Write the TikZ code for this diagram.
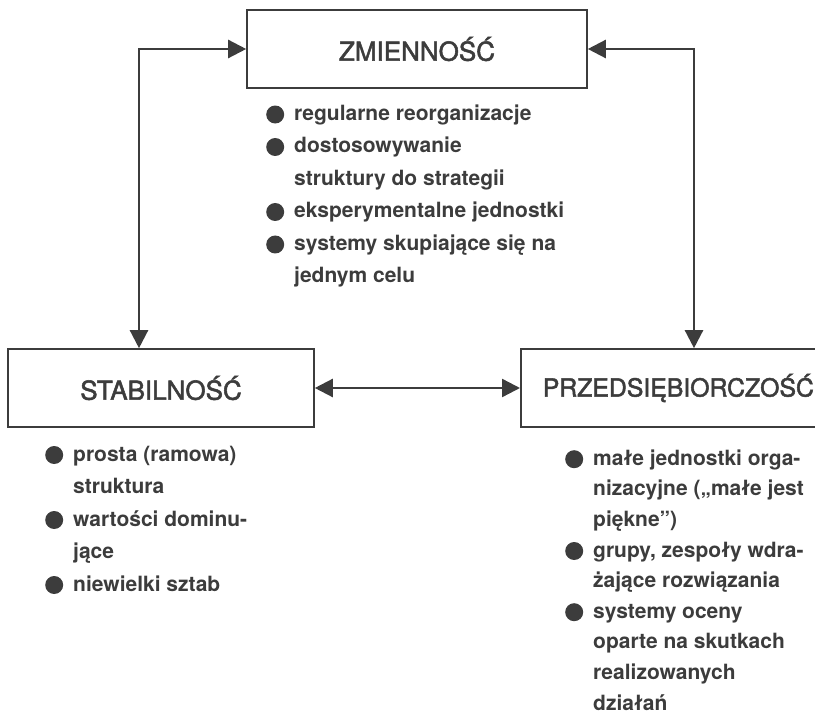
\documentclass[tikz,border=0pt]{standalone}
\usepackage{fontspec}
\setmainfont{TeX Gyre Heros}
\newfontfamily\headfont[FakeBold=2]{TeX Gyre Heros}
\usepackage{tikz}
\usetikzlibrary{arrows.meta}
\definecolor{ink}{HTML}{3C3C3C}
\newcommand{\bul}{\llap{\tikz[baseline={(0pt,-6pt)}]\fill[ink] (0pt,0pt) circle (9pt);\hspace{10pt}}}

\begin{document}
\begin{tikzpicture}[x=1pt, y=-1pt,
    box/.style={draw=ink, line width=1.6pt, text=ink, minimum height=78pt, inner xsep=0pt, font=\headfont\fontsize{26}{30}\selectfont},
    list/.style={anchor=base west, align=left, inner sep=0pt, text=ink, font=\bfseries\fontsize{21}{32.5}\selectfont},
    arr/.style={draw=ink, line width=2.4pt, {Triangle[length=18pt,width=18pt]}-{Triangle[length=18pt,width=18pt]}}]
    \useasboundingbox (0,0) rectangle (815,714);

    \node[box, minimum width=340pt] (zm) at (417,49) {ZMIENNOŚĆ};
    \node[box, minimum width=306pt] (stab) at (161,388) {STABILNOŚĆ};
    \node[box, anchor=west, inner xsep=22pt, font=\headfont\fontsize{24.8}{30}\selectfont] (prz) at (520,388) {PRZEDSIĘBIORCZOŚĆ};

    \coordinate (lc) at (139,49);
    \coordinate (rc) at (694,49);

    \draw[arr] (zm.west) -- (lc) -- (lc |- stab.north);
    \draw[arr] (zm.east) -- (rc) -- (rc |- prz.north);
    \draw[arr] (stab.east) -- (prz.west);

    % lists (anchored at the baseline of the last line)
    \node[list] (zmlist) at (294,283) {\bul regularne reorganizacje\\
      \bul dostosowywanie\\ struktury do strategii\\
      \bul eksperymentalne jednostki\\
      \bul systemy skupiające się na\\ jednym celu};
    \node[list] (stablist) at (73,591) {\bul prosta (ramowa)\\ struktura\\
      \bul wartości dominu-\\ jące\\
      \bul niewielki sztab};
    \node[list, font=\bfseries\fontsize{21}{30.6}\selectfont] (przlist) at (593,710) {\bul małe jednostki orga-\\
      nizacyjne („małe jest\\ piękne”)\\
      \bul grupy, zespoły wdra-\\ żające rozwiązania\\
      \bul systemy oceny\\ oparte na skutkach\\ realizowanych\\ działań};
\end{tikzpicture}
\end{document}
